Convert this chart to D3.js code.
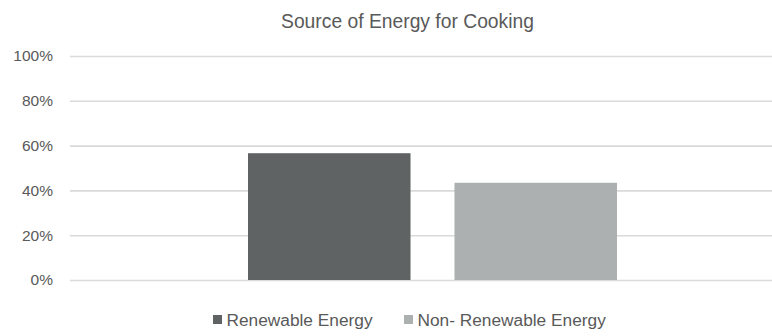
<!DOCTYPE html>
<html>
<head>
<meta charset="utf-8">
<script src="https://cdn.jsdelivr.net/npm/d3@7"></script>
<style>
  html, body { margin: 0; padding: 0; background: #fff; }
  svg { display: block; font-family: "Liberation Sans", Arial, sans-serif; }
</style>
</head>
<body>
<svg id="chart" width="772" height="336"></svg>
<script>
// Share of households by cooking energy source
const categories = ["Source of Energy for Cooking"];
const seriesNames = ["Renewable Energy", "Non- Renewable Energy"];
const seriesValues = [0.566, 0.434];
const seriesColors = ["#5f6363", "#adb0b0"];
const yTicks = [0, 0.2, 0.4, 0.6, 0.8, 1.0];

const svg = d3.select("#chart");
const plot = { left: 70, right: 795, top: 56, bottom: 280 };
const textColor = "#595959";

const y = d3.scaleLinear().domain([0, 1]).range([plot.bottom, plot.top]);

const x0 = d3.scaleBand()
  .domain(categories)
  .range([plot.left, plot.right])
  .paddingInner(0)
  .paddingOuter(0.4824);

const x1 = d3.scaleBand()
  .domain(seriesNames)
  .range([0, x0.bandwidth()])
  .paddingInner(0.213)
  .paddingOuter(0);

const color = d3.scaleOrdinal().domain(seriesNames).range(seriesColors);

// Title
svg.append("text")
  .attr("x", 407.5)
  .attr("y", 28)
  .attr("text-anchor", "middle")
  .attr("fill", textColor)
  .attr("font-size", 19.3)
  .text(categories[0]);

// Gridlines and tick labels
const yAxis = d3.axisLeft(y)
  .tickValues(yTicks)
  .tickSize(-(plot.right - plot.left))
  .tickPadding(17)
  .tickFormat(d3.format(".0%"));

const gAxis = svg.append("g")
  .attr("transform", `translate(${plot.left},0)`)
  .call(yAxis);
gAxis.select(".domain").remove();
gAxis.selectAll(".tick line")
  .attr("stroke", "#dadada")
  .attr("stroke-width", 1.6);
gAxis.selectAll(".tick text")
  .attr("fill", textColor)
  .attr("font-size", 15.5);

// Bars
const rows = seriesNames.map((name, i) => ({ category: categories[0], name, value: seriesValues[i] }));
svg.append("g")
  .selectAll("rect")
  .data(rows)
  .join("rect")
  .attr("x", d => x0(d.category) + x1(d.name))
  .attr("y", d => y(d.value))
  .attr("width", x1.bandwidth())
  .attr("height", d => y(0) - y(d.value))
  .attr("fill", d => color(d.name));

// Legend
const legendY = 320;
const legendStarts = [213, 404];
const legend = svg.append("g")
  .selectAll("g")
  .data(seriesNames)
  .join("g")
  .attr("transform", (d, i) => `translate(${legendStarts[i]},${legendY})`);
legend.append("rect")
  .attr("x", 0)
  .attr("y", -5)
  .attr("width", 9)
  .attr("height", 9)
  .attr("fill", d => color(d));
legend.append("text")
  .attr("x", 13.5)
  .attr("y", 0)
  .attr("dy", "0.35em")
  .attr("fill", textColor)
  .attr("font-size", 17.3)
  .text(d => d);
</script>
</body>
</html>
